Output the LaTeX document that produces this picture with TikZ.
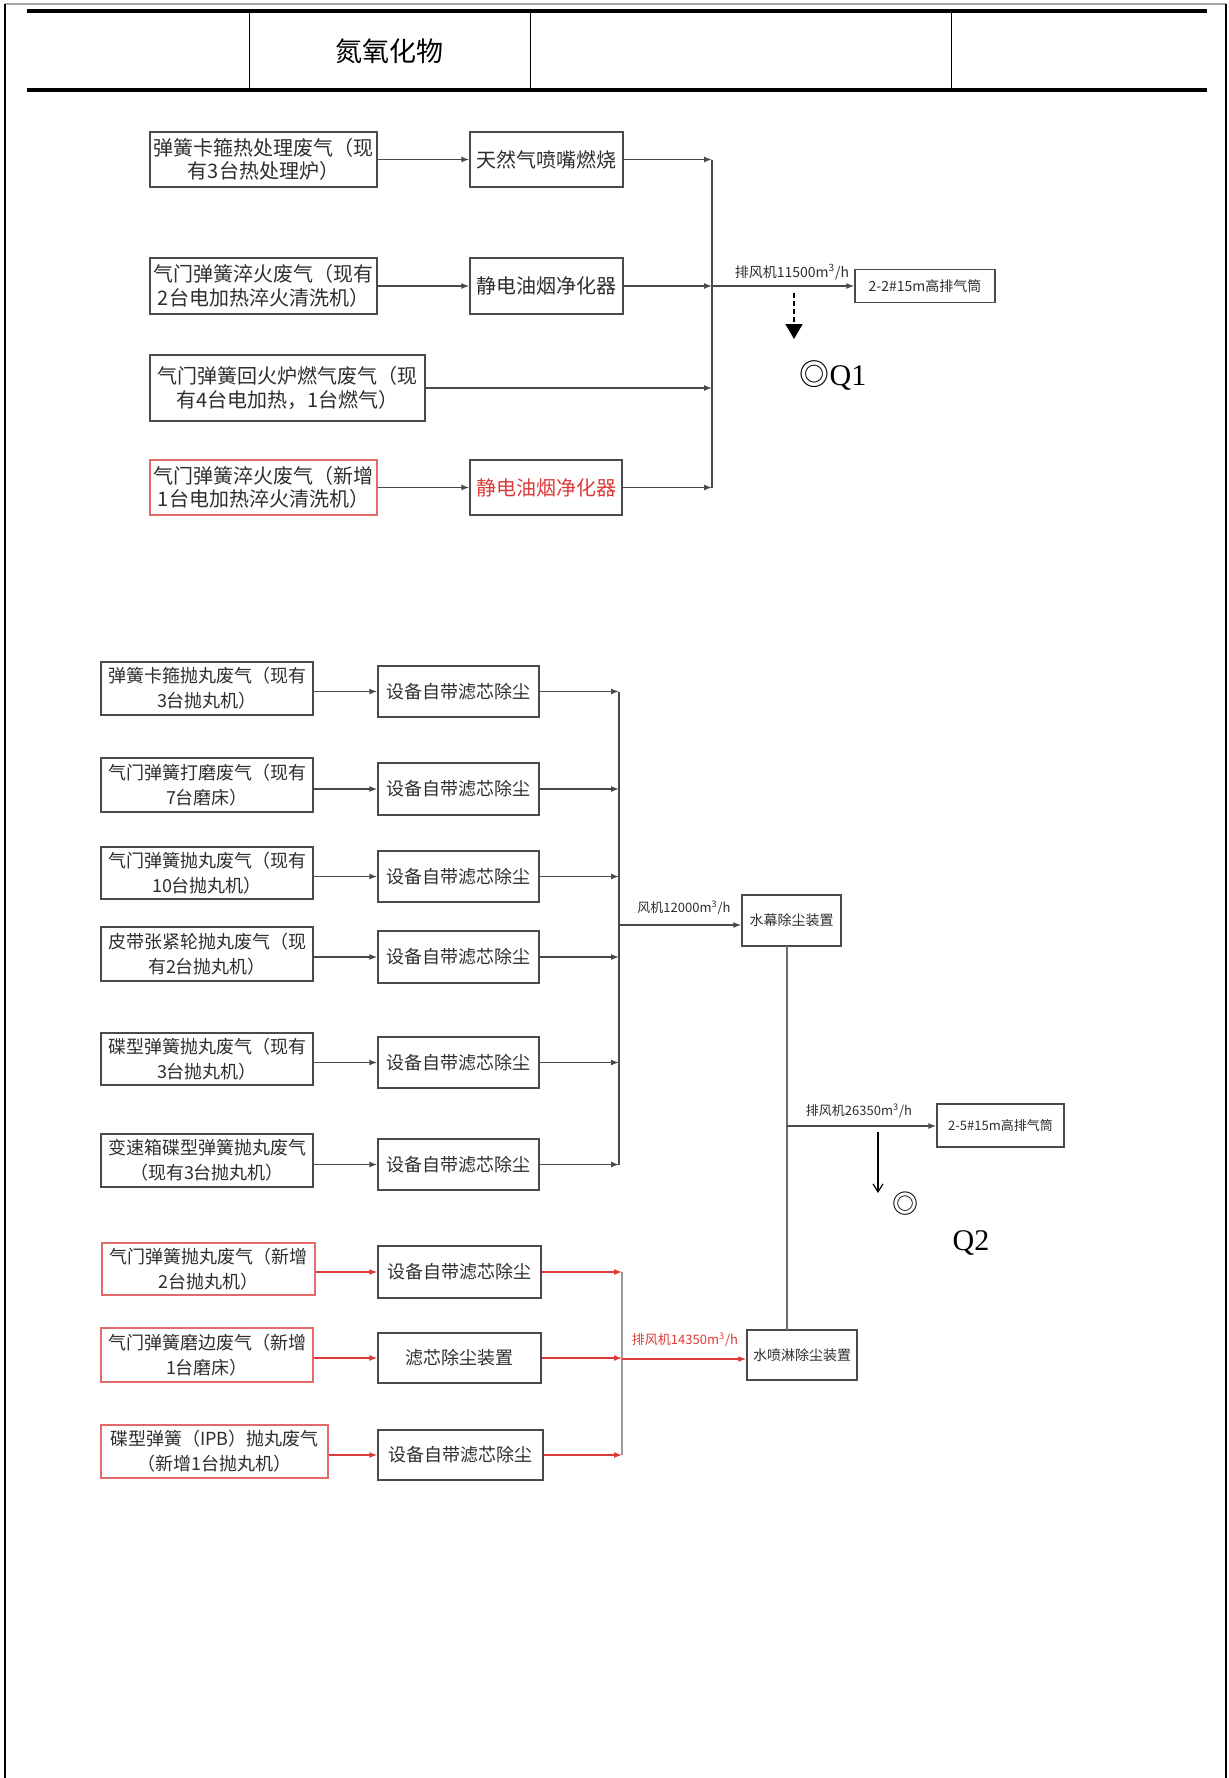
\documentclass[tikz,border=0pt]{standalone}
\usepackage{fontspec}
\newfontfamily\cjk{Noto Sans CJK SC}
\newfontfamily\tnr{Liberation Serif}
\usetikzlibrary{arrows.meta}
\definecolor{linec}{HTML}{4A4A4A}
\definecolor{textc}{HTML}{2E2E2E}
\definecolor{redc}{HTML}{DD3A3A}
\definecolor{redb}{HTML}{E26A6A}
\tikzset{
  sz/.style 2 args={minimum width=#1*0.5pt, minimum height=#2*0.5pt},
  bx/.style={draw=linec, line width=0.7pt, inner sep=0pt, align=center, text=textc,
             font=\cjk\fontsize{10}{11.7}\selectfont},
  bxs/.style={bx, font=\cjk\fontsize{9}{12.5}\selectfont},
  bxt/.style={bx, font=\cjk\fontsize{7}{8.5}\selectfont},
  lbl/.style={inner sep=0pt, text=textc, font=\cjk\fontsize{6.5}{8}\selectfont},
  ln/.style={draw=linec, line width=0.7pt},
  arr/.style={draw=linec, line width=0.7pt, -{Latex[length=4pt,width=3pt]}},
  rarr/.style={draw=redc, line width=0.7pt, -{Latex[length=4pt,width=3pt]}},
  dasharr/.style={draw=black, line width=0.8pt, dash pattern=on 2.5pt off 1.5pt,
                  -{Triangle[length=7.5pt,width=8.5pt]}},
  downarr/.style={draw=black, line width=0.6pt, -{Straight Barb[length=4pt,width=5pt]}},
}
\begin{document}
\begin{tikzpicture}[x=0.5pt,y=-0.5pt]
\useasboundingbox (0,0) rectangle (1229,1778);
\fill[white] (0,0) rectangle (1229,1778);

% ---------- page frame and header table ----------
\draw[gray!70, line width=1.2pt] (5,4) -- (1226,4);
\draw[black, line width=1.4pt] (5,4) -- (5,1778);
\draw[black, line width=1.4pt] (1226,4) -- (1226,1778);
\draw[black, line width=2pt] (27,11) -- (1207,11);
\draw[black, line width=2pt] (27,90) -- (1207,90);
\draw[black, line width=0.5pt] (249,12) -- (249,89);
\draw[black, line width=0.5pt] (530,12) -- (530,89);
\draw[black, line width=0.5pt] (951,12) -- (951,89);
\node[inner sep=0pt, font=\cjk\fontsize{13.5}{16}\selectfont] (hdr) at (389,51) {氮氧化物};

% ---------- upper diagram ----------
\node[bx, sz={227}{55}] (A1) at (263.5,159.5) {弹簧卡箍热处理废气（现\\有3台热处理炉）};
\node[bx, sz={153}{55}] (B1) at (546.5,159.5) {天然气喷嘴燃烧};
\node[bx, sz={227}{56}] (A2) at (263.5,286) {气门弹簧淬火废气（现有\\2台电加热淬火清洗机）};
\node[bx, sz={153}{56}] (B2) at (546.5,286) {静电油烟净化器};
\node[bx, sz={275}{66}] (A3) at (287.5,388) {气门弹簧回火炉燃气废气（现\\有4台电加热，1台燃气）};
\node[bx, draw=redb, sz={227}{55}] (A4) at (263.5,487.5) {气门弹簧淬火废气（新增\\1台电加热淬火清洗机）};
\node[bx, text=redc, sz={152}{55}] (B4) at (546,487.5) {静电油烟净化器};

\coordinate (busT) at (712,159.5);
\coordinate (busB) at (712,487.5);
\draw[ln] (busT) -- (busB);

\draw[arr] (A1.east) -- (B1.west);
\draw[arr] (A2.east) -- (B2.west);
\draw[arr] (A4.east) -- (B4.west);
\draw[arr] (B1.east) -- (B1.east -| busT);
\draw[arr] (B2.east) -- (B2.east -| busT);
\draw[arr] (A3.east) -- (A3.east -| busT);
\draw[arr] (B4.east) -- (B4.east -| busT);

\node[bxt, sz={140}{33}] (O1) at (925,286) {2-2\#15m高排气筒};
\draw[arr] (B2.east -| busT) -- (O1.west);
\node[lbl, font=\cjk\fontsize{7}{8}\selectfont] (L1) at (792,272) {排风机11500m\textsuperscript{3}/h};

\coordinate (d1) at (794,293);
\coordinate (d2) at (794,339);
\draw[dasharr] (d1) -- (d2);
\node[inner sep=0pt, font=\fontsize{15}{18}\selectfont] (Q1) at (833,375) {{\cjk ◎}{\tnr Q1}};

% ---------- lower diagram ----------
\node[bxs, sz={212}{53}] (C1) at (207,688.5) {弹簧卡箍抛丸废气（现有\\3台抛丸机）};
\node[bxs, sz={161}{51}] (D1) at (458.5,691.5) {设备自带滤芯除尘};
\node[bxs, sz={212}{54}] (C2) at (207,785) {气门弹簧打磨废气（现有\\7台磨床）};
\node[bxs, sz={161}{52}] (D2) at (458.5,789) {设备自带滤芯除尘};
\node[bxs, sz={212}{52}] (C3) at (207,873) {气门弹簧抛丸废气（现有\\10台抛丸机）};
\node[bxs, sz={161}{51}] (D3) at (458.5,876.5) {设备自带滤芯除尘};
\node[bxs, sz={212}{54}] (C4) at (207,954) {皮带张紧轮抛丸废气（现\\有2台抛丸机）};
\node[bxs, sz={161}{52}] (D4) at (458.5,957) {设备自带滤芯除尘};
\node[bxs, sz={212}{52}] (C5) at (207,1059) {碟型弹簧抛丸废气（现有\\3台抛丸机）};
\node[bxs, sz={161}{51}] (D5) at (458.5,1062.5) {设备自带滤芯除尘};
\node[bxs, sz={212}{53}] (C6) at (207,1160.5) {变速箱碟型弹簧抛丸废气\\（现有3台抛丸机）};
\node[bxs, sz={161}{51}] (D6) at (458.5,1164.5) {设备自带滤芯除尘};
\node[bxs, draw=redb, sz={213}{52}] (C7) at (208.5,1269) {气门弹簧抛丸废气（新增\\2台抛丸机）};
\node[bxs, sz={163}{52}] (D7) at (459.5,1272) {设备自带滤芯除尘};
\node[bxs, draw=redb, sz={212}{54}] (C8) at (207,1355) {气门弹簧磨边废气（新增\\1台磨床）};
\node[bxs, sz={163}{50}] (D8) at (459.5,1358) {滤芯除尘装置};
\node[bxs, draw=redb, sz={227}{53}] (C9) at (214.5,1451.5) {碟型弹簧（IPB）抛丸废气\\（新增1台抛丸机）};
\node[bxs, sz={165}{50}] (D9) at (460.5,1455) {设备自带滤芯除尘};

\foreach \i in {1,...,6} {\draw[arr] (C\i.east |- D\i.west) -- (D\i.west);}
\foreach \i in {7,8,9} {\draw[rarr] (C\i.east |- D\i.west) -- (D\i.west);}

\coordinate (bus1T) at (619,691.5);
\coordinate (bus1B) at (619,1164.5);
\draw[ln] (bus1T) -- (bus1B);
\foreach \i in {1,...,6} {\draw[arr] (D\i.east) -- (D\i.east -| bus1T);}

\coordinate (bus2T) at (622,1272);
\coordinate (bus2B) at (622,1455);
\draw[ln, draw=gray!80] (bus2T) -- (bus2B);
\foreach \i in {7,8,9} {\draw[rarr] (D\i.east) -- (D\i.east -| bus2T);}

\node[bxt, sz={99}{51}] (W1) at (791.5,920.5) {水幕除尘装置};
\coordinate (j1) at (619,925);
\draw[arr] (j1) -- (j1 -| W1.west);
\node[lbl] (L2) at (684,908) {风机12000m\textsuperscript{3}/h};

\node[bxt, sz={110}{50}] (W2) at (802,1355) {水喷淋除尘装置};
\coordinate (j3) at (622,1359);
\draw[rarr] (j3) -- (j3 -| W2.west);
\node[lbl, text=redc] (L4) at (685,1340) {排风机14350m\textsuperscript{3}/h};

\coordinate (v1) at (787,946);
\coordinate (v2) at (787,1330);
\draw[ln, draw=gray!85!black] (v1) -- (v2);

\node[bxt, font=\cjk\fontsize{6.5}{8}\selectfont, sz={127}{43}] (O2) at (1000.5,1125.5) {2-5\#15m高排气筒};
\coordinate (j2) at (787,1126);
\draw[arr] (j2) -- (j2 -| O2.west);
\node[lbl] (L3) at (859,1111) {排风机26350m\textsuperscript{3}/h};

\coordinate (d3) at (878,1132);
\coordinate (d4) at (878,1193);
\draw[downarr] (d3) -- (d4);
\node[inner sep=0pt, font=\cjk\fontsize{13}{15}\selectfont] (R2) at (905,1204) {◎};
\node[inner sep=0pt, font=\tnr\fontsize{15}{18}\selectfont] (Q2) at (971,1243) {Q2};
\end{tikzpicture}
\end{document}
